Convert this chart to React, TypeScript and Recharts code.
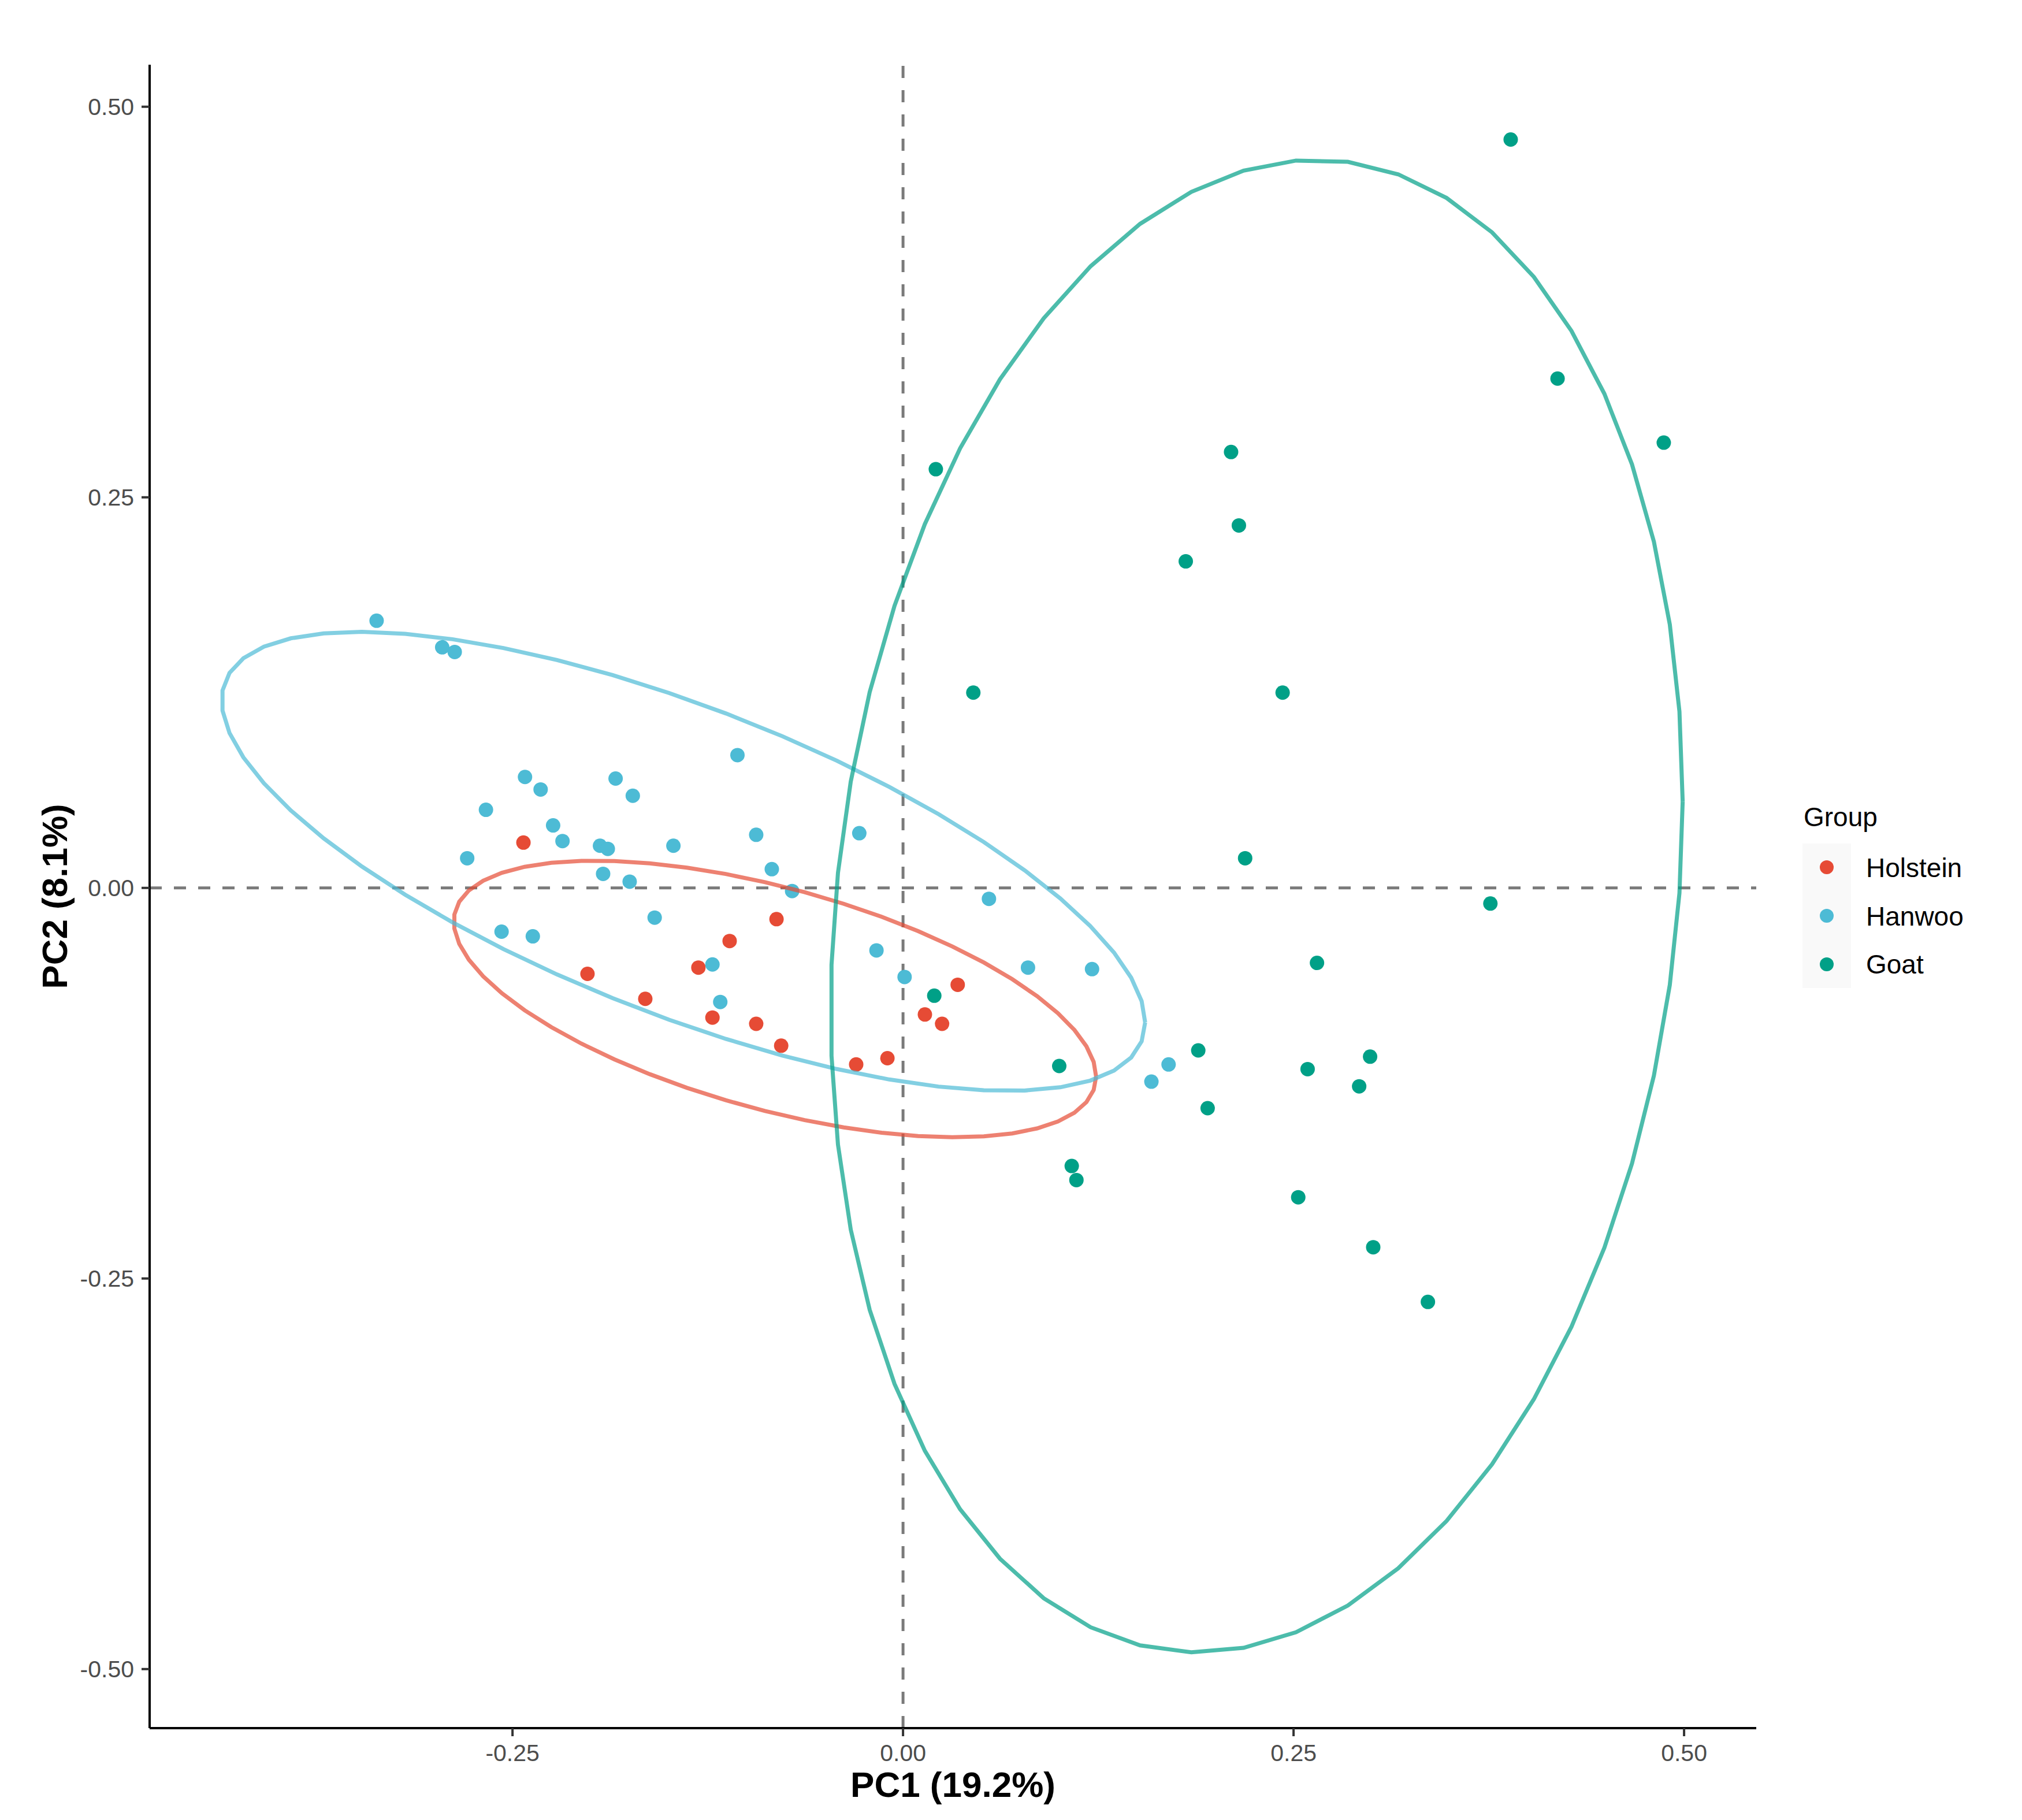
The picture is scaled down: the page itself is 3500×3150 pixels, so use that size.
import React from 'react';
import { ScatterChart, Scatter, XAxis, YAxis, ReferenceLine, Legend } from 'recharts';

// ---------- data ----------
const groupNames = ['Holstein', 'Hanwoo', 'Goat'];
const pointColors = ['#E64B35', '#4DBBD5', '#00A087'];

// PC1, PC2 per sample
const holsteinPC = [
  [-0.243, 0.029], [-0.081, -0.020], [-0.111, -0.034], [-0.131, -0.051],
  [-0.202, -0.055], [-0.165, -0.071], [-0.122, -0.083], [-0.094, -0.087],
  [-0.078, -0.101], [-0.030, -0.113], [-0.010, -0.109], [0.035, -0.062],
  [0.014, -0.081], [0.025, -0.087],
];

const hanwooPC = [
  [-0.337, 0.171], [-0.295, 0.154], [-0.287, 0.151], [-0.106, 0.085],
  [-0.242, 0.071], [-0.232, 0.063], [-0.184, 0.070], [-0.173, 0.059],
  [-0.267, 0.050], [-0.224, 0.040], [-0.218, 0.030], [-0.194, 0.027],
  [-0.189, 0.025], [-0.147, 0.027], [-0.094, 0.034], [-0.279, 0.019],
  [-0.192, 0.009], [-0.175, 0.004], [-0.084, 0.012], [-0.071, -0.002],
  [-0.159, -0.019], [-0.257, -0.028], [-0.237, -0.031], [-0.122, -0.049],
  [-0.117, -0.073], [-0.028, 0.035], [0.055, -0.007], [-0.017, -0.040],
  [0.001, -0.057], [0.080, -0.051], [0.121, -0.052], [0.170, -0.113],
  [0.159, -0.124],
];

const goatPC = [
  [0.020, -0.069], [0.100, -0.114], [0.108, -0.178], [0.111, -0.187],
  [0.021, 0.268], [0.210, 0.279], [0.215, 0.232], [0.181, 0.209],
  [0.045, 0.125], [0.243, 0.125], [0.219, 0.019], [0.389, 0.479],
  [0.419, 0.326], [0.487, 0.285], [0.376, -0.010], [0.265, -0.048],
  [0.299, -0.108], [0.259, -0.116], [0.292, -0.127], [0.253, -0.198],
  [0.301, -0.230], [0.336, -0.265], [0.189, -0.104], [0.195, -0.141],
];

// 95% ellipse parameters per group: [centerX, centerY, sdX, sdY, correlation]
const holsteinEllipse = [-0.082, -0.0711, 0.2056, 0.0885, -0.561];
const hanwooEllipse = [-0.1406, 0.0170, 0.2956, 0.1469, -0.702];
const goatEllipse = [0.2264, -0.0116, 0.2727, 0.4777, 0.140];

const xTicks = [-0.25, 0, 0.25, 0.5];
const yTicks = [-0.5, -0.25, 0, 0.25, 0.5];
const xDomain = [-0.4823, 0.5462];
const yDomain = [-0.5378, 0.5269];
const xTitle = 'PC1 (19.2%)';
const yTitle = 'PC2 (8.1%)';
const legendTitle = 'Group';

// ---------- helpers ----------
const FONT = '"Liberation Sans", Arial, Helvetica, sans-serif';
const toRows = (arr: number[][]) => arr.map(([x, y]) => ({ x, y }));

const ellipseRows = (p: number[]) => {
  const [cx, cy, sx, sy, rho] = p;
  const seg = 51;
  const k = Math.sqrt(1 - rho * rho);
  const rows: { x: number; y: number }[] = [];
  for (let i = 0; i <= seg; i++) {
    const t = (2 * Math.PI * i) / seg;
    rows.push({ x: cx + sx * Math.cos(t), y: cy + sy * (rho * Math.cos(t) + k * Math.sin(t)) });
  }
  return rows;
};

const pointSets = [toRows(holsteinPC), toRows(hanwooPC), toRows(goatPC)];
const ellipseSets = [ellipseRows(holsteinEllipse), ellipseRows(hanwooEllipse), ellipseRows(goatEllipse)];

const fmt = (v: number) => v.toFixed(2);

// layout
const W = 3500;
const H = 3150;
const PLOT_LEFT = 259;
const PLOT_RIGHT = 3040;
const PLOT_TOP = 112;
const PLOT_BOTTOM = 2991;

const XTick = (props: any) => {
  const { payload } = props;
  return (
    <text x={payload.coordinate} y={PLOT_BOTTOM + 57} textAnchor="middle" fontSize={41}
      fontFamily={FONT} fill="#4D4D4D">{fmt(payload.value)}</text>
  );
};

const YTick = (props: any) => {
  const { payload } = props;
  return (
    <text x={PLOT_LEFT - 27} y={payload.coordinate + 14.5} textAnchor="end" fontSize={41}
      fontFamily={FONT} fill="#4D4D4D">{fmt(payload.value)}</text>
  );
};

const XTitle = () => (
  <text x={(PLOT_LEFT + PLOT_RIGHT) / 2} y={3110} textAnchor="middle" fontSize={62}
    fontWeight="bold" fontFamily={FONT} fill="#000">{xTitle}</text>
);

const YTitle = () => {
  const cx = 116;
  const cy = (PLOT_TOP + PLOT_BOTTOM) / 2;
  return (
    <text x={cx} y={cy} transform={`rotate(-90, ${cx}, ${cy})`} textAnchor="middle" fontSize={62}
      fontWeight="bold" fontFamily={FONT} fill="#000">{yTitle}</text>
  );
};

const LEG_X = 3100;
const LEG_Y = 1360;
const renderLegend = () => (
  <svg width={400} height={380} style={{ display: 'block' }}>
    <text x={22} y={70} fontSize={46} fontFamily={FONT} fill="#000">{legendTitle}</text>
    <rect x={20} y={100} width={84} height={250} fill="#F9F9F9" />
    {groupNames.map((g, i) => (
      <g key={g}>
        <circle cx={62} cy={141 + i * 84} r={12} fill={pointColors[i]} />
        <text x={130} y={158 + i * 83.5} fontSize={46} fontFamily={FONT} fill="#000">{g}</text>
      </g>
    ))}
  </svg>
);

export default function App() {
  return (
    <div style={{ position: 'absolute', left: 0, top: 0, width: W, height: H, background: '#fff' }}>
      <ScatterChart
        width={W}
        height={H}
        margin={{ top: PLOT_TOP, right: W - PLOT_RIGHT, bottom: H - PLOT_BOTTOM - 100, left: PLOT_LEFT - 100 }}
      >
        <XAxis
          type="number"
          dataKey="x"
          domain={xDomain}
          allowDataOverflow
          ticks={xTicks}
          height={100}
          tickSize={14}
          axisLine={{ stroke: '#000', strokeWidth: 4 }}
          tickLine={{ stroke: '#333333', strokeWidth: 4 }}
          tick={<XTick />}
          interval={0}
          label={<XTitle />}
        />
        <YAxis
          type="number"
          dataKey="y"
          domain={yDomain}
          allowDataOverflow
          ticks={yTicks}
          width={100}
          tickSize={14}
          axisLine={{ stroke: '#000', strokeWidth: 4 }}
          tickLine={{ stroke: '#333333', strokeWidth: 4 }}
          tick={<YTick />}
          interval={0}
          label={<YTitle />}
        />
        {pointSets.map((rows, i) => (
          <Scatter
            key={'pts' + i}
            name={groupNames[i]}
            data={rows}
            fill={pointColors[i]}
            isAnimationActive={false}
            shape={(p: any) => <circle cx={p.cx} cy={p.cy} r={12.5} fill={pointColors[i]} />}
          />
        ))}
        {ellipseSets.map((rows, i) => (
          <Scatter
            key={'ell' + i}
            data={rows}
            fill="none"
            legendType="none"
            isAnimationActive={false}
            line={{ stroke: pointColors[i], strokeWidth: 7, strokeOpacity: 0.7, fill: 'none' }}
            lineType="joint"
            shape={() => <g />}
          />
        ))}
        <ReferenceLine y={0} stroke="#7A7A7A" strokeWidth={5} strokeDasharray="21 21" />
        <ReferenceLine x={0} stroke="#7A7A7A" strokeWidth={5} strokeDasharray="21 21" />
        <Legend
          layout="vertical"
          align="center"
          verticalAlign="middle"
          content={renderLegend}
          wrapperStyle={{ left: LEG_X, top: LEG_Y, width: 400, height: 380 }}
        />
      </ScatterChart>
    </div>
  );
}
